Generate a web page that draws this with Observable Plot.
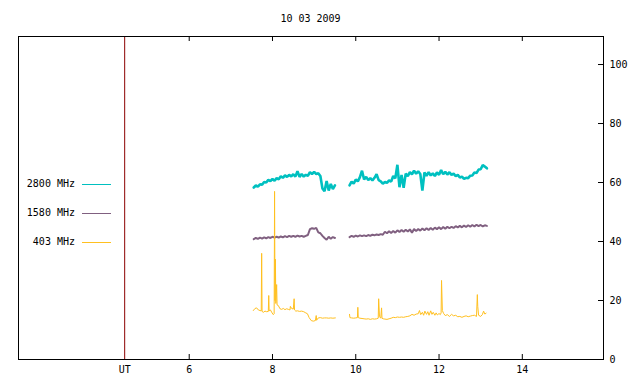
<!DOCTYPE html>
<html><head><meta charset="utf-8">
<script src="https://cdn.jsdelivr.net/npm/d3@7"></script>
<script src="https://cdn.jsdelivr.net/npm/@observablehq/plot@0.6"></script>
<style>
body{margin:0;background:#fff;}
#wrap{position:relative;width:640px;height:384px;font-family:"DejaVu Sans Mono",monospace;font-size:10px;color:#000;}
#title{position:absolute;left:0;width:621px;top:13px;text-align:center;line-height:12px;}
.lt{position:absolute;left:0;width:75px;text-align:right;line-height:12px;}
.ll{position:absolute;left:82px;width:29px;height:1px;}
</style></head><body><div id="wrap"><div id="title">10 03 2009</div></div>
<script>
const title = "10 03 2009";
const seriesNames = ["2800 MHz", "1580 MHz", "403 MHz"];
const seriesColors = ["#00c0c0", "#806080", "#ffc020"];
const seriesWidths = [2.6, 2, 1];
const utMarker = 4.45;
const xTicks = [6, 8, 10, 12, 14];
const yTicks = [0, 20, 40, 60, 80, 100];

// [hour UT, value]
const s2800a = [[7.55,58.3],[7.60,59.0],[7.65,58.6],[7.70,59.4],[7.75,59.2],[7.80,60.2],[7.85,60.0],[7.90,60.9],[7.95,60.5],[8.00,61.2],[8.05,60.6],[8.10,61.5],[8.15,61.1],[8.20,62.1],[8.25,61.6],[8.30,62.4],[8.35,61.9],[8.40,62.6],[8.45,62.1],[8.50,62.8],[8.55,62.0],[8.60,63.8],[8.65,61.9],[8.70,62.9],[8.75,62.0],[8.80,62.6],[8.85,62.3],[8.90,63.5],[8.95,62.9],[9.00,63.6],[9.05,62.9],[9.10,63.1],[9.15,62.2],[9.20,58.0],[9.25,57.0],[9.30,60.5],[9.35,57.3],[9.40,59.5],[9.45,57.8],[9.50,59.0]];
const s2800b = [[9.85,59.0],[9.90,60.3],[9.95,59.6],[10.00,61.0],[10.05,60.4],[10.10,61.8],[10.15,64.0],[10.20,61.0],[10.25,61.9],[10.30,60.8],[10.35,61.5],[10.40,60.7],[10.45,61.6],[10.50,62.8],[10.55,60.8],[10.60,60.4],[10.65,59.6],[10.70,60.2],[10.75,59.9],[10.80,60.7],[10.85,60.3],[10.90,62.2],[10.95,61.4],[11.00,66.0],[11.05,58.4],[11.10,62.6],[11.15,58.2],[11.20,63.0],[11.25,62.2],[11.30,63.5],[11.35,62.8],[11.40,64.0],[11.45,63.0],[11.50,63.8],[11.55,62.9],[11.60,57.3],[11.65,63.4],[11.70,62.3],[11.75,63.5],[11.80,62.4],[11.85,63.1],[11.90,62.2],[11.95,63.4],[12.00,62.6],[12.05,64.2],[12.10,62.8],[12.15,63.6],[12.20,62.7],[12.25,63.5],[12.30,62.6],[12.35,63.0],[12.40,62.2],[12.45,62.6],[12.50,61.7],[12.55,62.0],[12.60,61.2],[12.65,61.6],[12.70,61.5],[12.75,62.3],[12.80,62.4],[12.85,63.4],[12.90,63.2],[12.95,64.4],[13.00,64.5],[13.05,65.9],[13.10,65.4],[13.15,64.8]];
const s1580a = [[7.55,40.8],[7.60,41.2],[7.65,40.9],[7.70,41.3],[7.75,41.0],[7.80,41.4],[7.85,41.1],[7.90,41.5],[7.95,41.2],[8.00,41.6],[8.05,41.3],[8.10,41.6],[8.15,41.3],[8.20,41.7],[8.25,41.4],[8.30,41.8],[8.35,41.5],[8.40,41.9],[8.45,41.6],[8.50,41.9],[8.55,41.6],[8.60,42.0],[8.65,41.7],[8.70,41.9],[8.75,41.6],[8.80,41.9],[8.85,42.2],[8.90,44.2],[8.95,44.5],[9.00,44.3],[9.05,44.6],[9.10,43.1],[9.15,42.8],[9.20,41.9],[9.25,41.2],[9.30,40.6],[9.35,41.6],[9.40,40.9],[9.45,41.5],[9.50,41.2]];
const s1580b = [[9.85,41.5],[9.90,41.9],[9.95,41.6],[10.00,42.0],[10.05,41.7],[10.10,42.1],[10.15,41.8],[10.20,42.1],[10.25,41.8],[10.30,42.2],[10.35,41.9],[10.40,42.3],[10.45,42.1],[10.50,42.4],[10.55,42.2],[10.60,42.5],[10.65,42.3],[10.70,43.3],[10.75,42.8],[10.80,43.5],[10.85,42.9],[10.90,43.6],[10.95,43.0],[11.00,43.8],[11.05,43.2],[11.10,43.9],[11.15,43.3],[11.20,44.0],[11.25,43.4],[11.30,44.1],[11.35,43.0],[11.40,44.2],[11.45,43.6],[11.50,44.2],[11.55,43.7],[11.60,44.4],[11.65,43.8],[11.70,44.5],[11.75,43.9],[11.80,44.6],[11.85,44.0],[11.90,44.7],[11.95,44.2],[12.00,44.8],[12.05,44.2],[12.10,44.9],[12.15,44.3],[12.20,45.0],[12.25,44.5],[12.30,45.0],[12.35,44.6],[12.40,45.2],[12.45,44.8],[12.50,45.3],[12.55,44.8],[12.60,45.4],[12.65,44.9],[12.70,45.5],[12.75,45.0],[12.80,45.6],[12.85,45.1],[12.90,45.7],[12.95,45.2],[13.00,45.6],[13.05,45.1],[13.10,45.5],[13.15,45.3]];
const s403a = [[7.54,16.6],[7.58,17.3],[7.62,17.5],[7.66,16.8],[7.70,16.6],[7.73,16.5],[7.74,36.0],[7.75,16.3],[7.78,16.0],[7.82,16.4],[7.86,16.2],[7.90,16.3],[7.91,21.7],[7.92,16.5],[7.95,16.8],[7.99,15.8],[8.02,15.2],[8.04,15.5],[8.05,57.0],[8.06,20.0],[8.07,34.0],[8.08,19.0],[8.10,25.4],[8.11,18.5],[8.14,18.3],[8.18,17.2],[8.22,17.0],[8.26,17.3],[8.30,16.9],[8.34,17.2],[8.38,17.0],[8.42,16.8],[8.43,18.0],[8.46,17.3],[8.50,17.1],[8.52,20.6],[8.53,16.8],[8.56,16.4],[8.60,16.5],[8.65,16.3],[8.70,16.4],[8.75,16.2],[8.80,15.8],[8.84,15.5],[8.88,14.2],[8.93,13.2],[8.98,13.0],[9.03,13.2],[9.05,14.9],[9.06,13.3],[9.10,14.1],[9.15,14.2],[9.20,14.0],[9.25,14.1],[9.30,14.1],[9.35,14.0],[9.40,14.1],[9.45,14.0],[9.51,14.1]];
const s403b = [[9.85,15.3],[9.86,14.2],[9.90,14.1],[9.95,14.0],[10.00,14.1],[10.04,14.2],[10.05,17.7],[10.06,14.2],[10.10,14.0],[10.15,13.9],[10.20,13.8],[10.25,13.7],[10.30,13.8],[10.35,13.6],[10.40,13.8],[10.45,13.7],[10.50,13.8],[10.54,14.0],[10.55,20.6],[10.57,14.5],[10.60,14.0],[10.62,17.5],[10.63,14.0],[10.66,13.8],[10.70,13.7],[10.75,13.6],[10.80,13.8],[10.85,14.0],[10.90,14.3],[10.95,14.2],[11.00,14.4],[11.05,14.3],[11.10,14.4],[11.15,14.3],[11.20,14.5],[11.25,14.6],[11.30,14.8],[11.35,15.3],[11.40,15.0],[11.45,15.4],[11.50,15.5],[11.53,16.6],[11.56,15.2],[11.60,16.0],[11.63,15.0],[11.66,16.4],[11.70,15.3],[11.73,16.2],[11.76,15.0],[11.80,16.5],[11.83,15.3],[11.86,16.0],[11.90,15.0],[11.93,15.8],[11.96,15.1],[12.00,15.6],[12.03,15.2],[12.05,15.8],[12.06,26.8],[12.08,16.6],[12.11,15.6],[12.15,14.9],[12.20,15.2],[12.25,14.6],[12.30,15.3],[12.35,14.8],[12.40,15.0],[12.45,14.5],[12.50,14.6],[12.55,14.3],[12.60,14.6],[12.65,14.8],[12.70,14.5],[12.75,14.7],[12.80,14.9],[12.85,15.0],[12.90,14.6],[12.92,22.0],[12.93,18.0],[12.95,15.0],[13.00,14.6],[13.04,15.2],[13.07,16.4],[13.10,15.4],[13.13,15.7]];

const segs = [[s2800a, s2800b], [s1580a, s1580b], [s403a, s403b]];
const rows = [];
segs.forEach((pair, si) => pair.forEach((seg, gi) => seg.forEach(([t, v]) => rows.push({t, v, series: seriesNames[si], seg: si + "-" + gi}))));

const W = 640, H = 384;
const lineMarks = seriesNames.map((name, i) =>
  Plot.line(rows.filter(d => d.series === name), {x: "t", y: "v", z: "seg", stroke: seriesColors[i], strokeWidth: seriesWidths[i], strokeLinejoin: "bevel"})
);

const chart = Plot.plot({
  width: W, height: H,
  marginTop: 36, marginBottom: 25, marginLeft: 18, marginRight: 37,
  style: {fontFamily: "DejaVu Sans Mono, monospace", fontSize: "10px", background: "white", color: "black"},
  x: {domain: [1.9, 15.95]},
  y: {domain: [0, 109.5]},
  marks: [
    Plot.ruleX([utMarker], {stroke: "#8b0000", strokeWidth: 1}),
    ...lineMarks,
    Plot.ruleX(xTicks, {stroke: "black", insetTop: 318}),
    Plot.ruleX(xTicks, {stroke: "black", insetBottom: 318}),
    Plot.ruleY(yTicks, {stroke: "black", insetLeft: 580}),
    Plot.axisX({anchor: "bottom", ticks: [utMarker, ...xTicks], tickSize: 0, tickPadding: 6, tickFormat: d => d === utMarker ? "UT" : String(d), label: null}),
    Plot.axisY({anchor: "right", ticks: yTicks, tickSize: 0, tickPadding: 6, label: null}),
    Plot.frame({stroke: "black"})
  ]
});
chart.style.position = "absolute";
chart.style.left = "0"; chart.style.top = "0";
const wrap = document.getElementById("wrap");
wrap.insertBefore(chart, wrap.firstChild);

const legendY = [184, 213, 242];
seriesNames.forEach((name, i) => {
  const t = document.createElement("div");
  t.className = "lt"; t.textContent = name; t.style.top = (legendY[i] - 6) + "px";
  wrap.appendChild(t);
  const l = document.createElement("div");
  l.className = "ll"; l.style.background = seriesColors[i]; l.style.top = legendY[i] + "px";
  wrap.appendChild(l);
});
</script></body></html>
